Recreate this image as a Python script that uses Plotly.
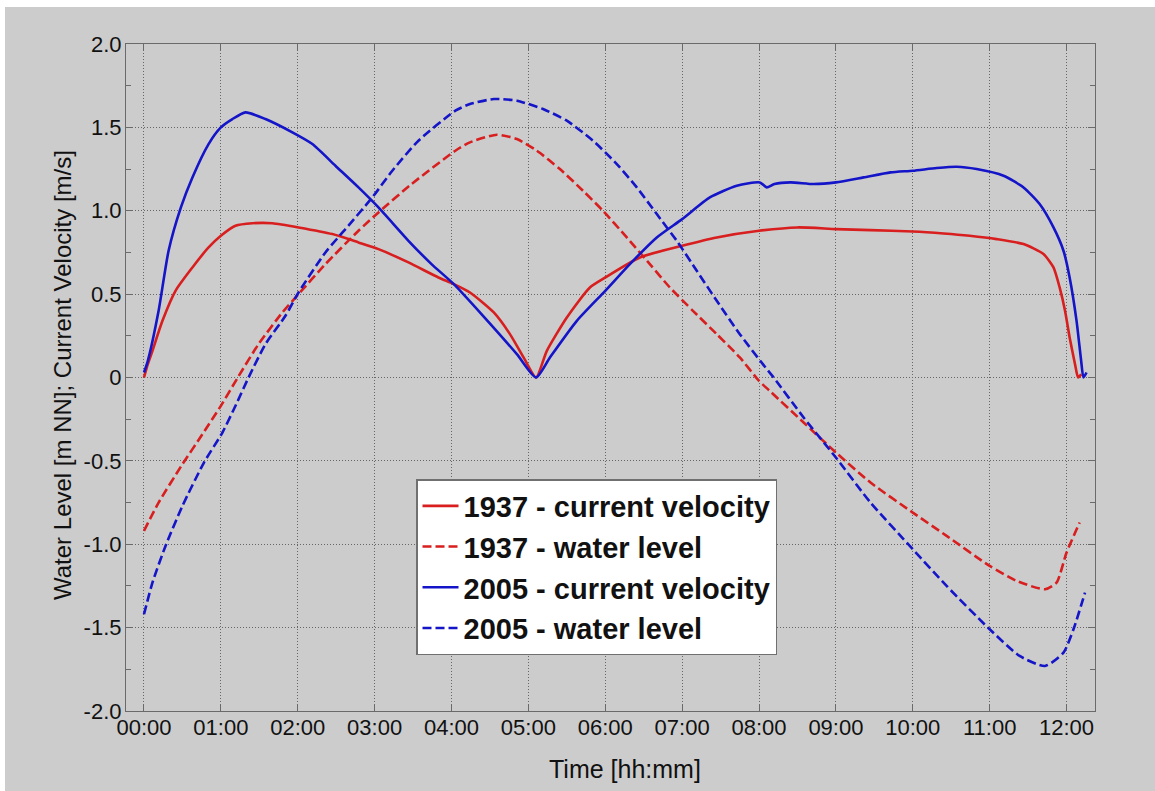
import plotly.graph_objects as go

# Time axis in decimal hours after start of tide
t_vel_1937 = [0.00, 0.05, 0.11, 0.24, 0.41, 0.63, 0.84, 1.00, 1.19, 1.41, 1.67, 2.01, 2.45, 2.79,
              3.05, 3.44, 3.83, 4.03, 4.24, 4.55, 4.76, 4.95, 5.10, 5.24, 5.50, 5.80, 6.00, 6.45,
              7.00, 7.45, 8.00, 8.50, 9.00, 9.45, 10.00, 10.40, 10.74, 11.09, 11.44, 11.70, 11.83,
              11.91, 11.98, 12.04, 12.11, 12.15, 12.19]
vel_1937 = [0.00, 0.08, 0.16, 0.34, 0.52, 0.66, 0.78, 0.85, 0.91, 0.925, 0.925, 0.90, 0.86, 0.81,
            0.77, 0.69, 0.60, 0.56, 0.51, 0.39, 0.26, 0.11, 0.00, 0.16, 0.36, 0.54, 0.60, 0.72,
            0.79, 0.84, 0.88, 0.90, 0.89, 0.884, 0.876, 0.864, 0.85, 0.83, 0.80, 0.74, 0.66,
            0.54, 0.40, 0.24, 0.08, 0.00, 0.02]

t_lvl_1937 = [0.00, 0.19, 0.50, 0.76, 1.00, 1.22, 1.49, 1.80, 2.01, 2.36, 2.79, 3.05, 3.48, 4.05,
              4.24, 4.59, 4.85, 5.11, 5.41, 5.71, 5.97, 6.28, 6.58, 6.84, 7.14, 7.45, 7.75, 8.00,
              8.15, 8.58, 9.00, 9.45, 10.00, 10.44, 11.00, 11.35, 11.72, 11.87, 12.00, 12.17]
lvl_1937 = [-0.92, -0.75, -0.52, -0.34, -0.17, 0.00, 0.20, 0.39, 0.50, 0.68, 0.88, 0.99, 1.16, 1.36,
            1.41, 1.456, 1.43, 1.36, 1.25, 1.12, 1.00, 0.84, 0.68, 0.54, 0.40, 0.26, 0.12, -0.02,
            -0.085, -0.27, -0.45, -0.63, -0.81, -0.95, -1.13, -1.22, -1.27, -1.23, -1.05, -0.87]

t_vel_2005 = [0.00, 0.05, 0.19, 0.32, 0.48, 0.63, 0.84, 1.00, 1.15, 1.32, 1.58, 1.93, 2.19, 2.49,
              2.79, 3.05, 3.44, 3.74, 4.03, 4.41, 4.85, 5.10, 5.28, 5.63, 6.00, 6.32, 6.67, 7.00,
              7.36, 7.71, 8.01, 8.10, 8.20, 8.41, 8.71, 9.00, 9.36, 9.71, 10.00, 10.31, 10.57,
              10.83, 11.18, 11.44, 11.65, 11.83, 11.96, 12.04, 12.13, 12.19, 12.22, 12.26]
vel_2005 = [0.03, 0.10, 0.40, 0.76, 1.02, 1.20, 1.40, 1.50, 1.55, 1.59, 1.55, 1.47, 1.40, 1.27,
            1.14, 1.02, 0.82, 0.68, 0.56, 0.37, 0.14, 0.00, 0.12, 0.34, 0.52, 0.68, 0.84, 0.95,
            1.08, 1.15, 1.17, 1.14, 1.16, 1.17, 1.16, 1.17, 1.20, 1.23, 1.24, 1.256, 1.264,
            1.25, 1.21, 1.14, 1.04, 0.90, 0.76, 0.60, 0.34, 0.10, 0.00, 0.03]

t_lvl_2005 = [0.00, 0.11, 0.28, 0.50, 0.78, 1.02, 1.20, 1.36, 1.58, 1.84, 2.01, 2.36, 2.62, 2.97,
              3.23, 3.57, 4.05, 4.24, 4.55, 4.85, 5.19, 5.50, 5.84, 6.15, 6.41, 6.67, 6.93, 7.19,
              7.45, 7.75, 8.05, 8.19, 8.58, 9.00, 9.45, 10.00, 10.44, 11.00, 11.39, 11.72, 11.96,
              12.09, 12.24]
lvl_2005 = [-1.42, -1.23, -1.01, -0.77, -0.51, -0.33, -0.16, 0.00, 0.20, 0.37, 0.51, 0.75, 0.89, 1.08,
            1.24, 1.42, 1.60, 1.64, 1.67, 1.66, 1.61, 1.54, 1.42, 1.28, 1.14, 0.98, 0.82, 0.64,
            0.46, 0.26, 0.08, 0.00, -0.24, -0.48, -0.75, -1.03, -1.25, -1.51, -1.67, -1.73, -1.65,
            -1.51, -1.29]

x_tick_vals = list(range(13))
x_tick_text = ["00:00", "01:00", "02:00", "03:00", "04:00", "05:00", "06:00",
               "07:00", "08:00", "09:00", "10:00", "11:00", "12:00"]
y_tick_vals = [-2.0, -1.5, -1.0, -0.5, 0.0, 0.5, 1.0, 1.5, 2.0]
y_tick_text = ["-2.0", "-1.5", "-1.0", "-0.5", "0", "0.5", "1.0", "1.5", "2.0"]
y_minor_vals = [-1.75, -1.25, -0.75, -0.25, 0.25, 0.75, 1.25, 1.75]

RED = "#d81e1e"
BLUE = "#1414c8"
FONT = "Liberation Sans, Arial, sans-serif"
DASH = "9px,4px"


def curve(x, y, name, color, dash="solid"):
    return go.Scatter(x=x, y=y, mode="lines", name=name,
                      line=dict(color=color, width=2.6, dash=dash, shape="spline", smoothing=0.6))


fig = go.Figure()
fig.add_trace(curve(t_vel_1937, vel_1937, "1937 - current velocity", RED))
fig.add_trace(curve(t_lvl_1937, lvl_1937, "1937 - water level", RED, DASH))
fig.add_trace(curve(t_vel_2005, vel_2005, "2005 - current velocity", BLUE))
fig.add_trace(curve(t_lvl_2005, lvl_2005, "2005 - water level", BLUE, DASH))

W, H = 1155, 791
ML, MR, MT, MB = 126, 60, 44, 80
pw, ph = W - ML - MR, H - MT - MB


def px_x(px):
    return (px - ML) / pw


def px_y(py):
    return (H - MB - py) / ph


axis_common = dict(
    showline=True, linecolor="#6a6a6a", linewidth=1.2, mirror="ticks",
    ticks="inside", ticklen=7, tickcolor="#6a6a6a", tickwidth=1,
    showgrid=True, gridcolor="#666666", gridwidth=1, griddash="1px,2px",
    zeroline=False, tickfont=dict(family=FONT, size=22, color="#111111"),
)

fig.update_layout(
    width=W, height=H,
    margin=dict(l=ML, r=MR, t=MT, b=MB),
    paper_bgcolor="white", plot_bgcolor="white",
    xaxis=dict(range=[-0.234, 12.37], tickmode="array", tickvals=x_tick_vals,
               ticktext=x_tick_text, ticklabelstandoff=-4, **axis_common),
    yaxis=dict(range=[-2.0, 2.0], tickmode="array", tickvals=y_tick_vals,
               ticktext=y_tick_text, ticklabelstandoff=-1,
               minor=dict(tickvals=y_minor_vals, ticks="inside", ticklen=5,
                          tickcolor="#6a6a6a", showgrid=False),
               **axis_common),
    legend=dict(x=px_x(416), y=px_y(479), xanchor="left", yanchor="top",
                bgcolor="white", bordercolor="#707070", borderwidth=1.5, itemwidth=36,
                font=dict(family=FONT, size=29, color="#111111", weight="bold")),
    shapes=[dict(type="rect", xref="paper", yref="paper", layer="below",
                 x0=px_x(5), x1=px_x(W + 2), y0=px_y(H + 2), y1=px_y(7),
                 fillcolor="#cccccc", line=dict(width=0))],
    annotations=[
        dict(text="Time [hh:mm]", xref="paper", yref="paper", x=px_x(625), y=px_y(769),
             xanchor="center", yanchor="middle", showarrow=False,
             font=dict(family=FONT, size=25, color="#111111")),
        dict(text="Water Level [m NN]; Current Velocity [m/s]", xref="paper", yref="paper",
             x=px_x(62), y=px_y(375), xanchor="center", yanchor="middle", textangle=-90,
             showarrow=False, font=dict(family=FONT, size=24, color="#111111")),
    ],
)

fig.write_html("out.html")
